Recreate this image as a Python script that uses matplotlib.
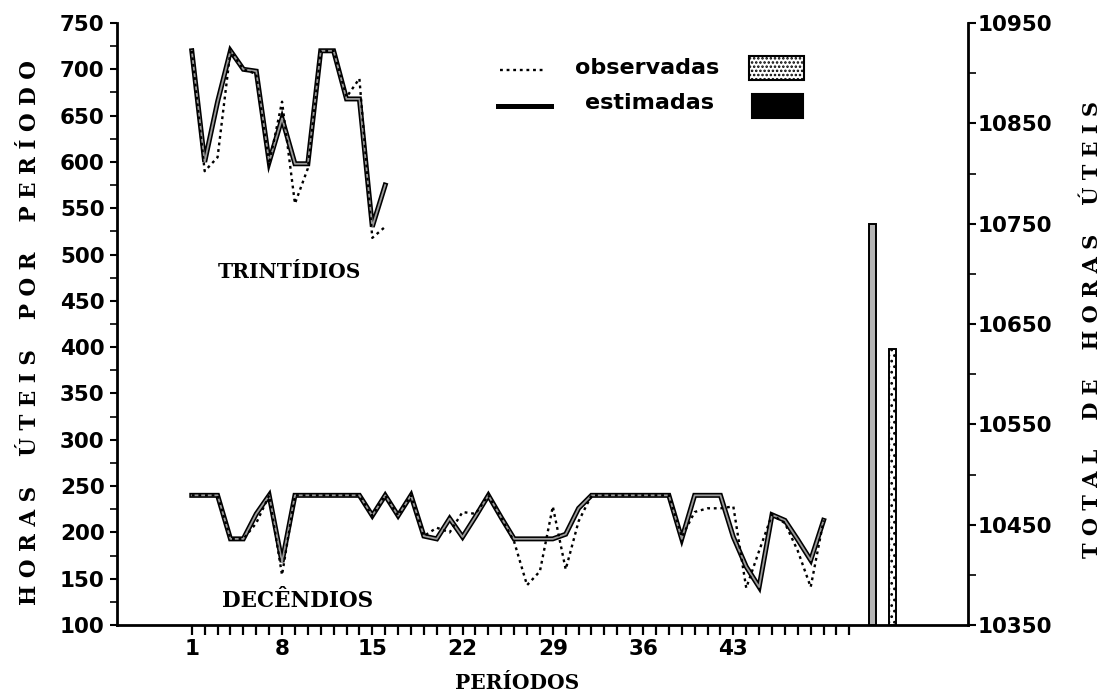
import matplotlib
matplotlib.use("Agg")
import matplotlib.pyplot as plt
from matplotlib.patches import Rectangle
from matplotlib.lines import Line2D
import numpy as np

# ---------------- data ----------------
trint_est = [720, 600, 665, 720, 700, 698, 600, 647, 598, 598, 720, 720, 668, 668, 530, 575]
trint_obs = [720, 590, 605, 720, 700, 695, 598, 665, 555, 593, 720, 720, 670, 690, 518, 530]

dec_est = [240, 240, 240, 193, 193, 220, 240, 168, 240, 240,
           240, 240, 240, 240, 218, 240, 218, 240, 196, 193,
           215, 195, 217, 240, 216, 193, 193, 193, 193, 198,
           226, 240, 240, 240, 240, 240, 240, 240, 193, 240,
           240, 240, 195, 163, 141, 219, 213, 192, 170, 213]
dec_obs = [240, 240, 240, 193, 193, 210, 240, 154, 240, 240,
           240, 240, 240, 240, 218, 240, 218, 240, 196, 205,
           200, 222, 220, 240, 216, 190, 143, 158, 228, 160,
           212, 240, 240, 240, 240, 240, 240, 240, 195, 222,
           226, 226, 228, 140, 180, 219, 210, 180, 141, 213]

total_labels = ["estimadas", "observadas"]
total_values = [10750, 10625]

x_tick_labels = ["1", "8", "15", "22", "29", "36", "43"]
left_ticks = list(range(100, 751, 50))
right_ticks = list(range(10350, 10951, 100))

# ---------------- figure ----------------
W, H = 1105, 697
fig = plt.figure(figsize=(W / 100, H / 100), dpi=100)
fig.patch.set_facecolor("white")

def fx(x):
    return x / W

def fy(y):
    return 1 - y / H

ax_l, ax_r, ax_t, ax_b = 117, 968, 23, 625
ax = fig.add_axes([fx(ax_l), fy(ax_b), fx(ax_r) - fx(ax_l), fy(ax_t) - fy(ax_b)])
ax2 = ax.twinx()

ax.set_xlim(-4.8, 61.2)
ax.set_ylim(100, 750)
ax2.set_ylim(10350, 10950)

tick_font = dict(family="DejaVu Sans", weight="bold", size=15.5)
serif = ["DejaVu Serif"]

# solid (estimated) lines: black outline with grey core
def solid(xs, ys):
    ax.plot(xs, ys, color="black", lw=3.6, solid_joinstyle="miter", zorder=3)
    ax.plot(xs, ys, color="#9a9a9a", lw=1.3, zorder=4)

def dotted(xs, ys):
    ax.plot(xs, ys, color="black", lw=1.7, linestyle=(0, (1.2, 1.6)), zorder=5)

xt = np.arange(1, len(trint_est) + 1)
xd = np.arange(1, len(dec_est) + 1)
solid(xt, trint_est)
dotted(xt, trint_obs)
solid(xd, dec_est)
dotted(xd, dec_obs)

# bars of totals on right axis
plt.rcParams["hatch.linewidth"] = 1.2
bx = [len(dec_est) + 3.8, len(dec_est) + 5.35]
base = ax2.get_ylim()[0]
ax2.bar(bx[0], total_values[0] - base, bottom=base, width=0.55,
        facecolor="#b5b5b5", edgecolor="black", lw=1.4, zorder=3)
ax2.bar(bx[1], total_values[1] - base, bottom=base, width=0.55,
        facecolor="white", edgecolor="black", hatch="...", lw=1.4, zorder=3)

# spines
ax.spines["top"].set_visible(False)
ax2.spines["top"].set_visible(False)
for s in ["left", "bottom"]:
    ax.spines[s].set_linewidth(2)
ax2.spines["right"].set_linewidth(2)
ax2.spines["left"].set_visible(False)
ax2.spines["bottom"].set_visible(False)

# ticks
ax.set_yticks(left_ticks)
ax.set_yticklabels([str(v) for v in left_ticks], fontdict=tick_font)
ax.set_yticks(np.arange(125, 750, 50), minor=True)
ax.tick_params(axis="y", which="major", direction="out", length=5, width=1.5, pad=4)
ax.tick_params(axis="y", which="minor", direction="out", length=5, width=1.2)

ax2.set_yticks(right_ticks)
ax2.set_yticklabels([str(v) for v in right_ticks], fontdict=tick_font)
ax2.set_yticks(np.arange(10400, 10950, 100), minor=True)
ax2.tick_params(axis="y", which="major", direction="out", length=6, width=1.5, pad=1)
ax2.tick_params(axis="y", which="minor", direction="out", length=6, width=1.2)

major_x = [int(t) for t in x_tick_labels]
ax.set_xticks(major_x)
ax.set_xticklabels(x_tick_labels, fontdict=tick_font)
ax.set_xticks([i for i in range(1, 53) if i not in major_x], minor=True)
ax.tick_params(axis="x", which="both", direction="out", length=7, width=1.6, pad=3)

# axis labels
ax.text(fx(30), fy(333), "H O R A S    Ú T E I S    P O R    P E R Í O D O",
        transform=fig.transFigure, rotation=90, ha="center", va="center",
        family=serif, weight="bold", size=15.5)
ax.text(fx(1092), fy(330), "T O T A L    D E    H O R A S    Ú T E I S",
        transform=fig.transFigure, rotation=90, ha="center", va="center",
        family=serif, weight="bold", size=15)
ax.text(fx(517), fy(683), "PERÍODOS", transform=fig.transFigure,
        ha="center", va="center", family=serif, weight="bold", size=14.5)
ax.text(fx(289), fy(272), "TRINTÍDIOS", transform=fig.transFigure,
        ha="center", va="center", family=serif, weight="bold", size=14.5)
ax.text(fx(298), fy(601), "DECÊNDIOS", transform=fig.transFigure,
        ha="center", va="center", family=serif, weight="bold", size=15.5)

# legend (manual)
fig.add_artist(Line2D([fx(500), fx(546)], [fy(70), fy(70)], color="black",
                      lw=1.7, linestyle=(0, (1.2, 1.6))))
fig.add_artist(Line2D([fx(498), fx(551)], [fy(106), fy(106)], color="black", lw=3.6))
fig.text(fx(647), fy(68), "observadas", ha="center", va="center",
         family="DejaVu Sans", weight="bold", size=16)
fig.text(fx(649), fy(103), "estimadas", ha="center", va="center",
         family="DejaVu Sans", weight="bold", size=16)
fig.add_artist(Rectangle((fx(749), fy(80)), fx(804) - fx(749), fy(56) - fy(80),
                         transform=fig.transFigure, facecolor="white",
                         edgecolor="black", hatch="....", lw=1.5))
fig.add_artist(Rectangle((fx(752), fy(118)), fx(803) - fx(752), fy(94) - fy(118),
                         transform=fig.transFigure, facecolor="black",
                         edgecolor="black", lw=1.5))

fig.savefig("out.png", dpi=100, facecolor="white")
